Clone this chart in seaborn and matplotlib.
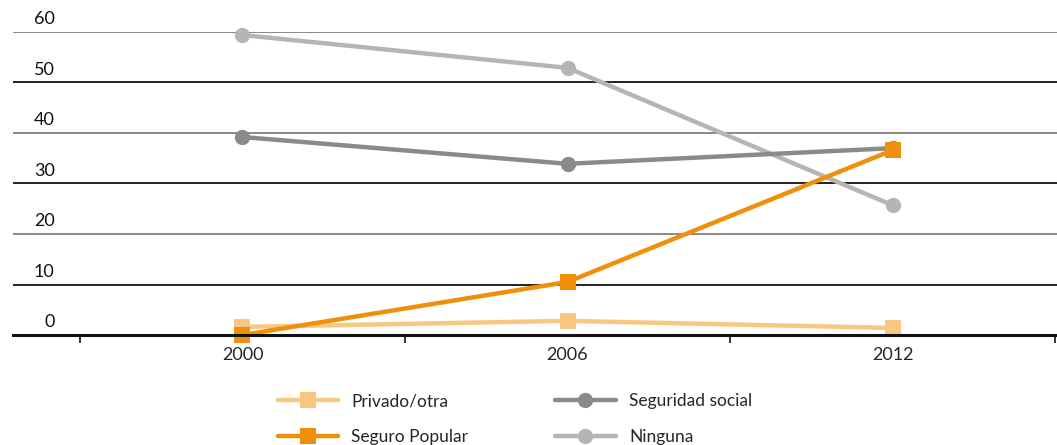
import pandas as pd
import matplotlib.pyplot as plt
import seaborn as sns

# Data
years = ["2000", "2006", "2012"]
privado = [1.6, 2.8, 1.4]
seguro_popular = [0.0, 10.5, 36.6]
seguridad_social = [39.2, 33.9, 37.0]
ninguna = [59.4, 52.9, 25.7]

series = {
    "Ninguna": ninguna,
    "Seguridad social": seguridad_social,
    "Privado/otra": privado,
    "Seguro Popular": seguro_popular,
}
colors = {
    "Privado/otra": "#F8C782",
    "Seguro Popular": "#F0900A",
    "Seguridad social": "#8A8A8A",
    "Ninguna": "#B5B5B5",
}
markers = {"Privado/otra": "s", "Seguro Popular": "s",
           "Seguridad social": "o", "Ninguna": "o"}
legend_order = ["Privado/otra", "Seguro Popular", "Seguridad social", "Ninguna"]

df = pd.DataFrame([
    {"year": y, "value": v, "serie": name}
    for name, vals in series.items() for y, v in zip(years, vals)
])

sns.set_style("white")
plt.rcParams["font.family"] = ["Lato", "DejaVu Sans"]

fig = plt.figure(figsize=(10.57, 4.45), dpi=100)
ax = fig.add_axes([13 / 1057, 110 / 445, 1044 / 1057, 303 / 445])

sns.lineplot(data=df, x="year", y="value", hue="serie", style="serie",
             hue_order=list(series), style_order=list(series),
             palette=colors, markers=markers, dashes=False, sort=False,
             linewidth=3.2, markersize=11, markeredgewidth=0, ax=ax,
             legend=False)
for line in ax.lines:
    line.set_clip_on(False)

ax.set_ylim(0, 60)
ax.set_xlim(-0.706, 2.506)

# alternating grid lines, labels sit just above each line
for v in [10, 20, 30, 40, 50, 60]:
    c = "#111111" if v in (10, 30, 50) else "#808080"
    ax.axhline(v, color=c, lw=1.3, zorder=0)
for v in [0, 10, 20, 30, 40, 50, 60]:
    ax.text(0.04, v + 0.9, str(v), transform=ax.get_yaxis_transform(),
            ha="right", va="bottom", fontsize=13, color="#111111")

sns.despine(ax=ax, left=True, top=True, right=True)
ax.spines["bottom"].set_linewidth(2.2)
ax.spines["bottom"].set_color("#111111")
ax.set_yticks([])
ax.set_xticks([0, 1, 2])
ax.set_xticklabels(years, fontsize=13)
ax.set_xticks([-0.5, 0.5, 1.5, 2.5], minor=True)
ax.tick_params(axis="x", which="major", length=0, pad=9)
ax.tick_params(axis="x", which="minor", length=6, width=1.2, color="#111111",
               direction="out", bottom=True)
ax.set_xlabel("")
ax.set_ylabel("")

handles = [plt.Line2D([], [], color=colors[n], marker=markers[n], lw=3.2,
                      markersize=11, markeredgewidth=0) for n in legend_order]
fig.legend(handles, legend_order, loc="upper center",
           bbox_to_anchor=(0.487, 0.132), ncol=2, frameon=False,
           fontsize=12.5, handlelength=3.5, columnspacing=5.0,
           handletextpad=0.75, labelspacing=1.15, borderaxespad=0)

fig.savefig("out.png", dpi=100)
